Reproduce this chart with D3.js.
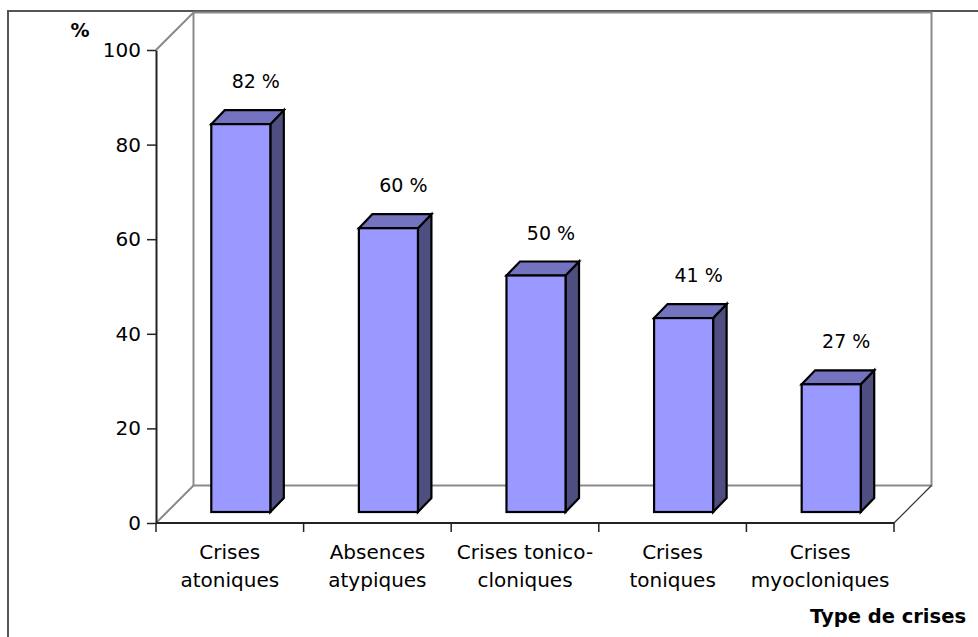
<!DOCTYPE html>
<html>
<head>
<meta charset="utf-8">
<script src="https://cdn.jsdelivr.net/npm/d3@7"></script>
<style>
  html, body { margin: 0; padding: 0; background: #fff; }
  svg { display: block; font-family: "DejaVu Sans", Verdana, sans-serif; }
</style>
</head>
<body>
<svg id="chart" width="978" height="637"></svg>
<script>
// Seizure types and their share (%)
const categories = ["Crises atoniques", "Absences atypiques", "Crises tonico-cloniques", "Crises toniques", "Crises myocloniques"];
const categoryLines = [["Crises", "atoniques"], ["Absences", "atypiques"], ["Crises tonico-", "cloniques"], ["Crises", "toniques"], ["Crises", "myocloniques"]];
const values = [82, 60, 50, 41, 27];
const valueLabels = ["82 %", "60 %", "50 %", "41 %", "27 %"];
const yTicks = [0, 20, 40, 60, 80, 100];
const yTitle = "%";
const xTitle = "Type de crises";

(function () {
  const svg = d3.select("#chart");

  // Plot geometry (front plane of the 3D box)
  const plotLeft = 156, plotRight = 894, plotBottom = 523, plotTop = 50;
  const depth = [37.5, -37.5];        // offset from front plane to back wall
  const barFront = [11, -11];         // bar front face offset into the box
  const barDepth = [13.5, -14];       // thickness of each bar

  const x = d3.scaleBand().domain(categories).range([plotLeft, plotRight]);
  const y = d3.scaleLinear().domain([0, 100]).range([plotBottom, plotTop]);

  // Outer chart frame
  svg.append("path")
    .attr("d", `M8,640 L8,11 L980,11`)
    .attr("fill", "none").attr("stroke", "#555").attr("stroke-width", 2);

  // Back wall and floor
  const wall = svg.append("g").attr("fill", "none").attr("stroke", "#8a8a8a").attr("stroke-width", 2);
  const bx0 = plotLeft + depth[0], bx1 = plotRight + depth[0];
  const byTop = y(100) + depth[1], byBot = plotBottom + depth[1];
  wall.append("path").attr("d",
    `M${plotLeft},${y(100)} L${bx0},${byTop} L${bx1},${byTop} L${bx1},${byBot} L${bx0},${byBot} L${bx0},${byTop}`);
  wall.append("line").attr("x1", plotLeft).attr("y1", plotBottom).attr("x2", bx0).attr("y2", byBot);
  svg.append("line")
    .attr("x1", plotRight).attr("y1", plotBottom).attr("x2", bx1).attr("y2", byBot)
    .attr("stroke", "#333").attr("stroke-width", 1.2);

  // Bars as 3D boxes
  const bw = x.bandwidth() * 0.4;
  const bars = svg.append("g").attr("stroke", "#000").attr("stroke-width", 2.2).attr("stroke-linejoin", "miter");
  categories.forEach((c, i) => {
    const x0 = x(c) + (x.bandwidth() - bw) / 2 + barFront[0];
    const x1 = x0 + bw;
    const yb = y(0) + barFront[1];
    const yt = y(values[i]) + barFront[1];
    const dx = barDepth[0], dy = barDepth[1];
    // right side
    bars.append("path").attr("fill", "#4e4e80")
      .attr("d", `M${x1},${yt} L${x1 + dx},${yt + dy} L${x1 + dx},${yb + dy} L${x1},${yb} Z`);
    // top
    bars.append("path").attr("fill", "#7373c0")
      .attr("d", `M${x0},${yt} L${x0 + dx},${yt + dy} L${x1 + dx},${yt + dy} L${x1},${yt} Z`);
    // front
    bars.append("rect").attr("fill", "#9999ff")
      .attr("x", x0).attr("y", yt).attr("width", bw).attr("height", yb - yt);
    // value label
    svg.append("text")
      .attr("x", (x0 + x1) / 2 + 15).attr("y", yt - 36)
      .attr("text-anchor", "middle").attr("font-size", 19).attr("fill", "#000")
      .text(valueLabels[i]);
  });

  // Y axis
  const yAxis = svg.append("g")
    .attr("transform", `translate(${plotLeft},0)`)
    .call(d3.axisLeft(y).tickValues(yTicks).tickSize(9).tickPadding(6).tickSizeOuter(0));
  yAxis.select(".domain").attr("stroke", "#222").attr("stroke-width", 2);
  yAxis.selectAll(".tick line").attr("stroke", "#222").attr("stroke-width", 1.5);
  yAxis.selectAll(".tick text").attr("font-size", 20).attr("fill", "#000")
    .attr("font-family", "DejaVu Sans, sans-serif");

  // X axis line with ticks at category boundaries
  svg.append("line").attr("x1", plotLeft).attr("y1", plotBottom).attr("x2", plotRight).attr("y2", plotBottom)
    .attr("stroke", "#222").attr("stroke-width", 2);
  const bounds = categories.map(c => x(c)).concat([plotRight]);
  svg.append("g").selectAll("line").data(bounds).join("line")
    .attr("x1", d => d).attr("x2", d => d).attr("y1", plotBottom).attr("y2", plotBottom + 9)
    .attr("stroke", "#222").attr("stroke-width", 1.5);

  // Category labels
  categories.forEach((c, i) => {
    const t = svg.append("text")
      .attr("text-anchor", "middle").attr("font-size", 20).attr("fill", "#000");
    categoryLines[i].forEach((line, j) => {
      t.append("tspan").attr("x", x(c) + x.bandwidth() / 2).attr("y", 559 + j * 27.5).text(line);
    });
  });

  // Axis titles
  svg.append("text").attr("x", 80).attr("y", 37).attr("text-anchor", "middle")
    .attr("font-size", 19).attr("font-weight", "bold").text(yTitle);
  svg.append("text").attr("x", 966).attr("y", 623).attr("text-anchor", "end")
    .attr("font-size", 19.5).attr("font-weight", "bold").text(xTitle);
})();
</script>
</body>
</html>
